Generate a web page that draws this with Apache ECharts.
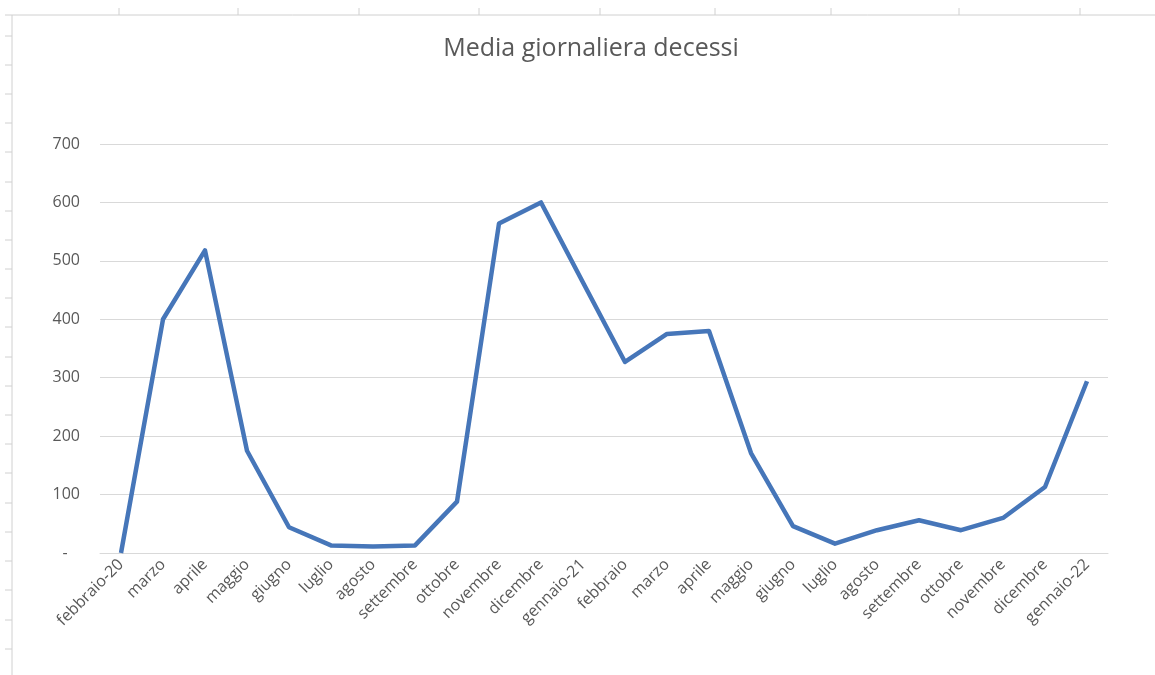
<!DOCTYPE html>
<html>
<head>
<meta charset="utf-8">
<script src="https://cdn.jsdelivr.net/npm/echarts@6/dist/echarts.min.js"></script>
<style>
html,body{margin:0;padding:0;background:#fff;}
#chart{width:1155px;height:675px;}
</style>
</head>
<body>
<div id="chart"></div>
<script>
const categories = ["febbraio-20","marzo","aprile","maggio","giugno","luglio","agosto","settembre","ottobre","novembre","dicembre","gennaio-21","febbraio","marzo","aprile","maggio","giugno","luglio","agosto","settembre","ottobre","novembre","dicembre","gennaio-22"];
const deaths = [0,400,518,175,44,13,11,13,88,564,600,463,327,375,380,171,46,16,39,56,39,60,113,294];
const yTicks = [0,100,200,300,400,500,600,700];
const titleText = "Media giornaliera decessi";

// spreadsheet frame decoration
const frame = [];
frame.push({type:'line',shape:{x1:5,y1:15,x2:1155,y2:15},style:{stroke:'#d0d0d0',lineWidth:1},silent:true});
frame.push({type:'line',shape:{x1:12,y1:15,x2:12,y2:675},style:{stroke:'#d0d0d0',lineWidth:1},silent:true});
[119,238,359,479,600,715,831,959,1080].forEach(x=>{
  frame.push({type:'line',shape:{x1:x,y1:8,x2:x,y2:15},style:{stroke:'#d0d0d0',lineWidth:1},silent:true});
});
for(let y=35.5;y<675;y+=29.2){
  frame.push({type:'line',shape:{x1:5,y1:Math.round(y),x2:12,y2:Math.round(y)},style:{stroke:'#d0d0d0',lineWidth:1},silent:true});
}

const chart = echarts.init(document.getElementById('chart'));
chart.setOption({
  animation:false,
  backgroundColor:'#fff',
  title:{
    text:titleText,
    left:586, top:31, textAlign:'center',
    textStyle:{fontFamily:'Open Sans',fontSize:25,fontWeight:'normal',color:'#595959'}
  },
  graphic:frame,
  grid:{left:100,right:47,top:144,bottom:122,containLabel:false},
  xAxis:{
    type:'category',
    data:categories,
    boundaryGap:true,
    axisLine:{lineStyle:{color:'#d9d9d9',width:1}},
    axisTick:{show:false},
    axisLabel:{interval:0,rotate:45,margin:9,color:'#595959',fontFamily:'Open Sans',fontSize:16}
  },
  yAxis:{
    type:'value',
    min:yTicks[0],max:yTicks[yTicks.length-1],interval:100,
    axisLine:{show:false},
    axisTick:{show:false},
    splitLine:{lineStyle:{color:'#d9d9d9',width:1}},
    axisLabel:{margin:20,color:'#595959',fontFamily:'Open Sans',fontSize:16,
      formatter:v=> v===0 ? '-   ' : String(v)}
  },
  series:[{
    type:'line',
    data:deaths,
    symbol:'none',
    smooth:false,
    lineStyle:{color:'#4676b9',width:4.5,join:'round'},
    itemStyle:{color:'#4676b9'}
  }]
});
</script>
</body>
</html>
